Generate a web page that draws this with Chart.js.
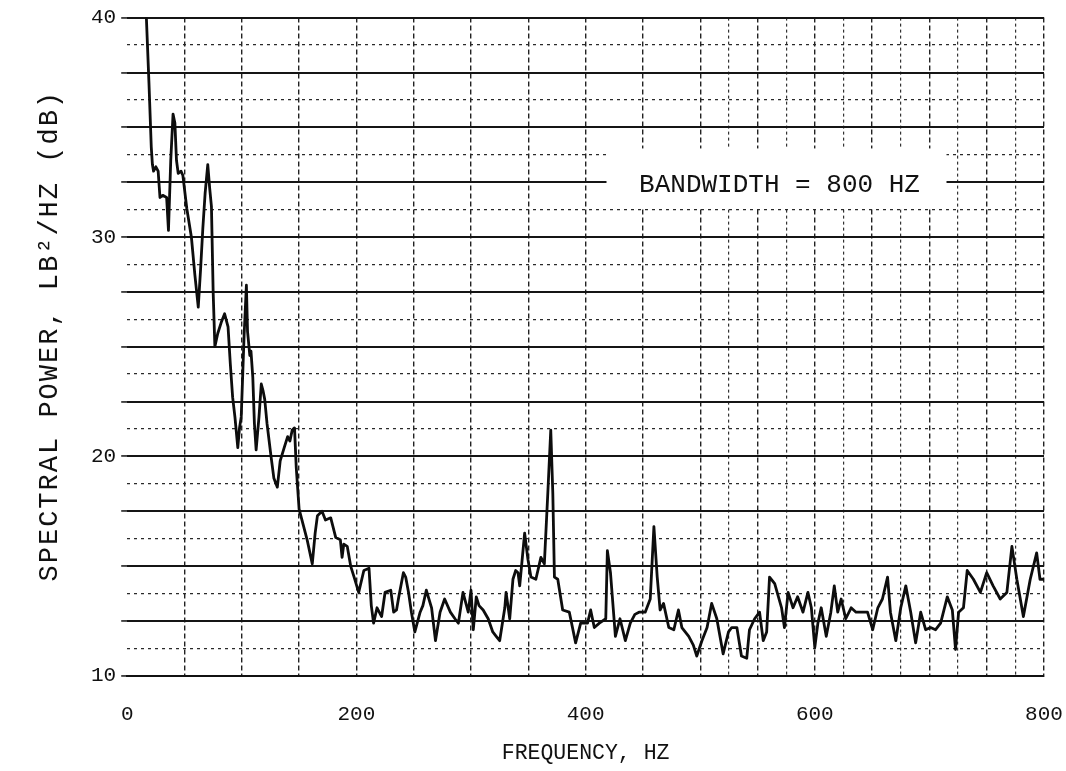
<!DOCTYPE html>
<html><head><meta charset="utf-8">
<script src="https://cdn.jsdelivr.net/npm/chart.js@4/dist/chart.umd.min.js"></script>
<style>html,body{margin:0;padding:0;background:#fff}</style>
</head><body>
<canvas id="c" width="1066" height="771"></canvas>
<script>
const frequencyHz = [16.5,19,21,22,23,25,27,28.6,31,34.4,36,38,40,41.6,43,44.5,47,48.6,52,56,59,62,64,66,68,70.3,72,73.5,75,76.5,79,82,85,88,90,92,94,96.5,98,99.5,102,104,105,107,108,109.6,111,112.5,115,117,118.5,120,122,125.5,128,131,133.5,137,140,142,144,146,147.5,150,154,157,161.5,164,166,170,173,177.6,182,186,187.5,189,192,195,198,202,206.5,211,213,215,218,222,225,230,232.5,235,237,241,243,245.5,248,251,255.6,258,261,265.6,269,273,277,282,286,289,293,297.6,300,302,304.6,307,310.6,315,319,322,325,329.5,330.6,333.8,336.6,339,341,342.5,346.8,349.7,352.3,356.6,361,364,367,369.6,371.4,372.8,375.7,380,385.8,391.3,395.7,401.7,404.4,407.6,412,417.6,419,421.7,426,430,434.7,439,443,446.6,452,456.4,459.6,462.5,465,468,472.6,477,481,484,490,494,497,501.5,506,510,514.5,520,524.7,527.5,532,536,540.6,543,547.5,551.8,555,558,560.5,565,571,573.5,576.7,581,585,589.7,594,597,600,602.7,605.6,610,614,617,620,623,627,631.7,636,641.8,646,650.5,655,659,663.5,666,670.7,675,679.4,683.7,688,692.4,696.7,701,705.4,709.8,715.6,720,722.8,725.5,729.7,733,738.4,744.5,750,755.6,761.8,767.6,772,776.3,782,788,793.6,796.5,800];
const spectralPowerDb = [40.3,37,34.1,33.3,33.0,33.2,33.0,31.8,31.9,31.8,30.3,33.5,35.6,35.2,33.5,32.9,33.0,32.8,31.3,30.0,28.3,26.8,28.5,30.4,32.0,33.3,32.2,31.4,27.5,25.0,25.6,26.1,26.5,25.9,24.2,22.7,21.8,20.4,21.3,21.8,25.5,27.8,25.7,24.6,24.8,23.6,21.5,20.3,21.8,23.3,23.0,22.6,21.5,20.0,19.0,18.6,19.8,20.4,20.9,20.7,21.2,21.3,19.5,17.6,16.8,16.2,15.1,16.5,17.3,17.5,17.1,17.2,16.3,16.2,15.4,16.0,15.9,15.0,14.5,13.8,14.8,14.9,13.2,12.4,13.1,12.7,13.8,13.9,12.9,13.0,13.6,14.7,14.5,13.8,12.9,12.0,12.9,13.2,13.9,13.1,11.6,12.9,13.5,12.9,12.6,12.4,13.8,12.9,13.9,12.1,13.6,13.2,13.0,12.6,12.0,11.8,11.6,13.1,13.8,12.6,14.4,14.8,14.7,14.1,16.5,15.3,14.5,14.4,15.4,15.1,18.3,21.2,18.3,14.5,14.4,13.0,12.9,11.5,12.4,12.4,13.0,12.2,12.4,12.6,15.7,14.7,11.8,12.6,11.6,12.4,12.8,12.9,12.9,13.5,16.8,14.5,13.0,13.3,12.2,12.1,13.0,12.2,11.8,11.4,10.9,11.6,12.2,13.3,12.6,11.0,12.0,12.2,12.2,10.9,10.8,12.1,12.6,12.9,11.6,12.0,14.5,14.2,13.1,12.2,13.8,13.1,13.6,12.9,13.8,13.1,11.3,12.4,13.1,11.8,12.9,14.1,12.9,13.5,12.6,13.1,12.9,12.9,12.9,12.1,13.1,13.5,14.5,12.9,11.6,13.1,14.1,12.9,11.5,12.9,12.1,12.2,12.1,12.4,13.6,13.0,11.2,12.9,13.1,14.8,14.4,13.8,14.7,14.1,13.5,13.8,15.9,14.4,12.7,14.4,15.6,14.4,14.4];
const xTickLabels = [0, 200, 400, 600, 800];
const yTickLabels = [10, 20, 30, 40];
const annotationText = 'BANDWIDTH = 800 HZ';
const xTitleText = 'FREQUENCY, HZ';
const yTitleText = 'SPECTRAL POWER, LB\u00B2/HZ (dB)';

const MONO = '"Liberation Mono", "DejaVu Sans Mono", monospace';
const INK = '#111';

const textPlugin = {
  id: 'texts',
  beforeDatasetsDraw(chart) {
    const { ctx, scales } = chart;
    const cx = scales.x.getPixelForValue(569.2);
    const cy = scales.y.getPixelForValue(32.35);
    ctx.save();
    ctx.fillStyle = '#fff';
    ctx.fillRect(cx - 173, cy - 37, 340, 59);
    ctx.font = '26px ' + MONO;
    ctx.fillStyle = INK;
    ctx.textAlign = 'center';
    ctx.textBaseline = 'middle';
    ctx.fillText(annotationText, cx, cy);
    ctx.restore();
  },
  afterDraw(chart) {
    const { ctx, chartArea } = chart;
    ctx.save();
    ctx.fillStyle = INK;
    ctx.textAlign = 'center';
    ctx.textBaseline = 'middle';
    ctx.font = '21.5px ' + MONO;
    ctx.fillText(xTitleText, (chartArea.left + chartArea.right) / 2, chartArea.bottom + 78);
    ctx.translate(chartArea.left - 77, (chartArea.top + chartArea.bottom) / 2 - 11);
    ctx.rotate(-Math.PI / 2);
    ctx.font = '27px ' + MONO;
    try { ctx.letterSpacing = '2px'; } catch (e) {}
    ctx.fillText(yTitleText, 0, 0);
    ctx.restore();
  }
};

new Chart(document.getElementById('c'), {
  type: 'line',
  data: {
    datasets: [{
      data: frequencyHz.map((f, i) => ({ x: f, y: spectralPowerDb[i] })),
      borderColor: '#0d0d0d',
      borderWidth: 2.8,
      pointRadius: 0,
      tension: 0,
      borderJoinStyle: 'round',
      fill: false
    }]
  },
  options: {
    responsive: false,
    animation: false,
    layout: { padding: { left: 86, right: 22, top: 17, bottom: 42 } },
    plugins: { legend: { display: false }, tooltip: { enabled: false } },
    scales: {
      x: {
        type: 'linear', position: 'bottom', min: 0, max: 800,
        afterBuildTicks: s => { s.ticks = []; for (let v = 0; v <= 800; v += 50) s.ticks.push({ value: v }); },
        ticks: {
          autoSkip: false, maxRotation: 0, padding: 2, color: INK,
          font: { family: MONO, size: 21 },
          callback: v => xTickLabels.includes(v) ? String(v) : ''
        },
        grid: {
          drawTicks: true, tickLength: 24, tickColor: 'rgba(0,0,0,0)',
          color: c => (c.tick && c.tick.value === 0) ? 'rgba(0,0,0,0)' : '#222',
          lineWidth: 1.4
        },
        border: { display: true, color: INK, width: 2, dash: [5, 3] }
      },
      x2: {
        type: 'linear', position: 'bottom', min: 0, max: 800,
        afterBuildTicks: s => { s.ticks = []; for (let v = 525; v < 800; v += 50) s.ticks.push({ value: v }); },
        ticks: { display: false },
        grid: { drawTicks: false, color: '#333', lineWidth: 1.2 },
        border: { display: false, dash: [3, 3] }
      },
      y: {
        type: 'linear', position: 'left', min: 10, max: 40,
        afterBuildTicks: s => { s.ticks = []; for (let v = 10; v <= 40; v += 2.5) s.ticks.push({ value: v }); },
        ticks: {
          autoSkip: false, padding: 5, color: INK,
          font: { family: MONO, size: 21 },
          callback: v => yTickLabels.includes(v) ? String(v) : ''
        },
        grid: { drawTicks: true, tickLength: 6, color: '#151515', lineWidth: 1.9, tickColor: INK, tickWidth: 1.5 },
        border: { display: false }
      },
      y2: {
        type: 'linear', position: 'left', min: 10, max: 40,
        afterBuildTicks: s => { s.ticks = []; for (let v = 11.25; v < 40; v += 2.5) s.ticks.push({ value: v }); },
        ticks: { display: false },
        grid: { drawTicks: false, color: '#2a2a2a', lineWidth: 1.3 },
        border: { display: false, dash: [3, 4] }
      }
    }
  },
  plugins: [textPlugin]
});
</script>
</body></html>
